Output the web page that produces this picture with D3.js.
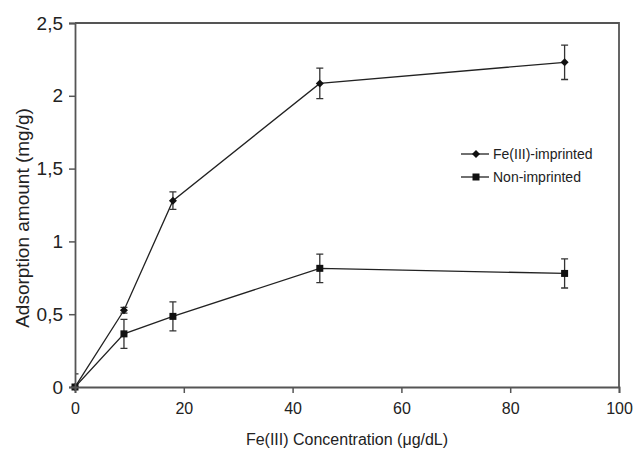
<!DOCTYPE html>
<html>
<head>
<meta charset="utf-8">
<script src="https://cdn.jsdelivr.net/npm/d3@7"></script>
<style>
  body { margin: 0; background: #fff; }
  svg text { font-family: "Liberation Sans", Arial, sans-serif; fill: #222; }
</style>
</head>
<body>
<div class="chart"></div>
<script>
// values
const concentration = [0, 9, 18, 45, 90];
const imprinted = [0, 0.527, 1.28, 2.085, 2.23];
const imprintedErr = [0, 0.02, 0.06, 0.105, 0.118];
const nonImprinted = [0, 0.365, 0.485, 0.815, 0.78];
const nonImprintedErr = [0.09, 0.1, 0.1, 0.098, 0.1];
const xTicks = [0, 20, 40, 60, 80, 100];
const yTicks = [0, 0.5, 1, 1.5, 2, 2.5];
const seriesNames = ["Fe(III)-imprinted", "Non-imprinted"];

const margin = ({top: 23, right: 17, bottom: 64, left: 75});
const width = 636 - margin.left - margin.right;
const height = 451 - margin.top - margin.bottom;

const svg = d3.select('.chart').append('svg')
    .attr("width", width + margin.left + margin.right)
    .attr("height", height + margin.top + margin.bottom);

const plot = svg.append("g")
    .attr("transform", "translate(" + margin.left + "," + margin.top + ")");

const xScale = d3.scaleLinear().domain([0, 100]).range([0, width]);
const yScale = d3.scaleLinear().domain([0, 2.5]).range([height, 0]);

const series = [
    {name: seriesNames[0], values: imprinted, err: imprintedErr, marker: "diamond"},
    {name: seriesNames[1], values: nonImprinted, err: nonImprintedErr, marker: "square"}
];

// clip so error bars stay inside the frame
plot.append("clipPath").attr("id", "clip")
    .append("rect").attr("width", width).attr("height", height);

const data = plot.append("g").attr("clip-path", "url(#clip)");

const line = d3.line()
    .x((d, i) => xScale(concentration[i]))
    .y(d => yScale(d));

series.forEach(s => {
    data.append("path")
        .attr("d", line(s.values))
        .attr("fill", "none")
        .attr("stroke", "#222")
        .attr("stroke-width", 1.3);

    const bars = data.append("g");
    s.values.forEach((v, i) => {
        if (!s.err[i]) return;
        const x = xScale(concentration[i]);
        const y0 = yScale(v - s.err[i]), y1 = yScale(v + s.err[i]);
        bars.append("path")
            .attr("d", `M${x},${y0}V${y1}M${x-3.5},${y0}H${x+3.5}M${x-3.5},${y1}H${x+3.5}`)
            .attr("stroke", "#333")
            .attr("stroke-width", 1.3)
            .attr("fill", "none");
    });
});

// markers on top, not clipped
function drawMarker(g, type, x, y) {
    if (type === "diamond") {
        g.append("path")
            .attr("d", `M${x},${y-4}L${x+4},${y}L${x},${y+4}L${x-4},${y}Z`)
            .attr("fill", "#111");
    } else {
        g.append("rect")
            .attr("x", x - 3.5).attr("y", y - 3.5)
            .attr("width", 7).attr("height", 7)
            .attr("fill", "#111");
    }
}

series.forEach(s => {
    const g = plot.append("g");
    s.values.forEach((v, i) => drawMarker(g, s.marker, xScale(concentration[i]), yScale(v)));
});

// frame
plot.append("path")
    .attr("d", `M0,0H${width}V${height}`)
    .attr("fill", "none")
    .attr("stroke", "#555")
    .attr("stroke-width", 1.8);

const xAxis = d3.axisBottom(xScale)
    .tickValues(xTicks)
    .tickSize(6)
    .tickPadding(10);

const yAxis = d3.axisLeft(yScale)
    .tickValues(yTicks)
    .tickSize(6)
    .tickPadding(6)
    .tickFormat(d => String(d).replace(".", ","));

const gx = plot.append("g")
    .attr("class", "axis x-axis")
    .attr("transform", `translate(0, ${height})`)
    .call(xAxis);

const gy = plot.append("g")
    .attr("class", "axis y-axis")
    .call(yAxis);

[gx, gy].forEach(g => {
    g.select(".domain").attr("stroke", "#555").attr("stroke-width", 1.8);
    g.selectAll(".tick line").attr("stroke", "#555").attr("stroke-width", 1.5);
});
gx.selectAll(".tick text").attr("font-size", "16px").attr("fill", "#222");
gy.selectAll(".tick text").attr("font-size", "19px").attr("fill", "#222");

// axis titles
plot.append("text")
    .attr("x", width / 2)
    .attr("y", height + 58)
    .attr("text-anchor", "middle")
    .attr("font-size", "16px")
    .text("Fe(III) Concentration (\u03bcg/dL)");

plot.append("text")
    .attr("transform", `translate(${-margin.left + 29}, ${height / 2 + 13}) rotate(-90)`)
    .attr("text-anchor", "middle")
    .attr("font-size", "19px")
    .text("Adsorption amount (mg/g)");

// legend
const legend = plot.append("g")
    .attr("transform", `translate(${461 - margin.left}, ${154 - margin.top})`);

series.forEach((s, i) => {
    const row = legend.append("g").attr("transform", `translate(0, ${i * 23})`);
    row.append("line")
        .attr("x1", 0).attr("x2", 28)
        .attr("stroke", "#222").attr("stroke-width", 1.3);
    drawMarker(row, s.marker, 15, 0);
    row.append("text")
        .attr("x", 32)
        .attr("dy", "0.35em")
        .attr("font-size", "14px")
        .text(s.name);
});
</script>
</body>
</html>
